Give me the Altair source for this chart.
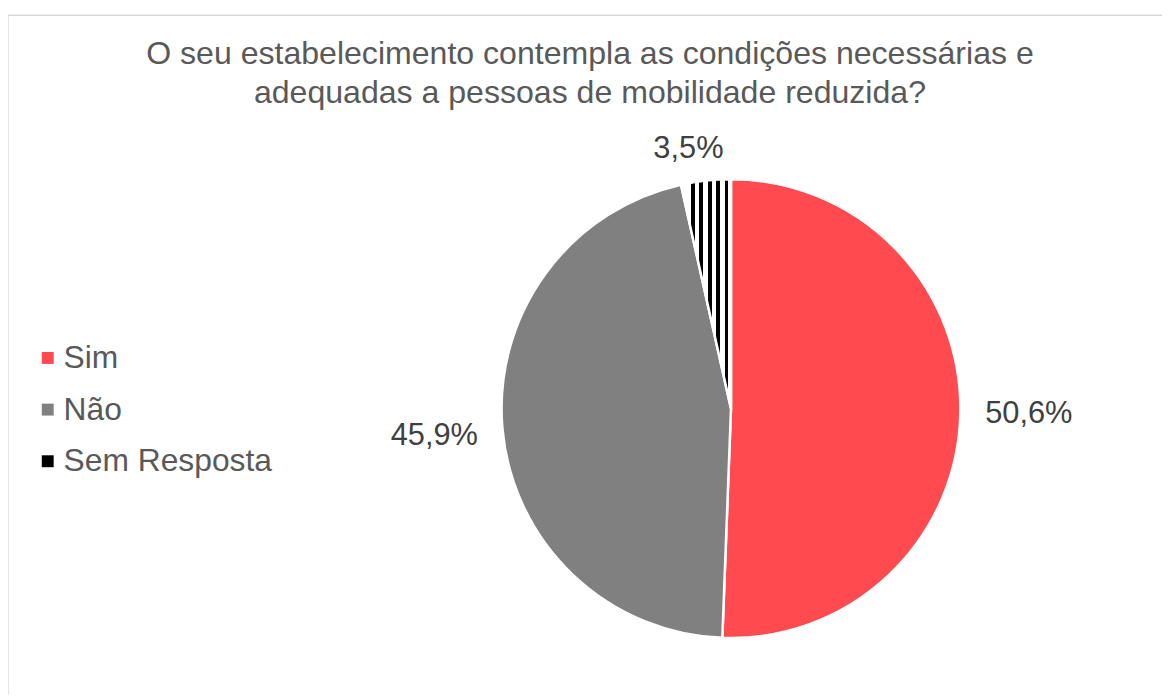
import altair as alt
import pandas as pd

categorias = ["Sim", "Não", "Sem Resposta"]
valores = [50.6, 45.9, 3.5]
cores = ["#FF4B50", "#808080", "#000000"]
titulo = ["O seu estabelecimento contempla as condições necessárias e",
          "adequadas a pessoas de mobilidade reduzida?"]

df = pd.DataFrame({
    "categoria": categorias,
    "valor": valores,
    "ordem": list(range(len(categorias))),
    "rotulo": [f"{v:.1f}".replace(".", ",") + "%" for v in valores],
})

FONT = "Liberation Sans"
CX, CY, R = 728, 396, 231

# vertical stripes pattern for "Sem Resposta"
black_bands = [(0.20, 0.28), (0.36, 0.44), (0.54, 0.62), (0.70, 0.78), (0.88, 0.94)]
stops = []
for a, b in black_bands:
    stops += [{"offset": a, "color": "#ffffff"}, {"offset": a, "color": "#000000"},
              {"offset": b, "color": "#000000"}, {"offset": b, "color": "#ffffff"}]
stops = [{"offset": 0, "color": "#ffffff"}] + stops + [{"offset": 1, "color": "#ffffff"}]
stripes = {"gradient": "linear", "x1": 0, "x2": 1, "y1": 0, "y2": 0, "stops": stops}

base = alt.Chart(df)
theta = alt.Theta("valor:Q", stack=True)
order = alt.Order("ordem:Q", sort="ascending")

pie = base.mark_arc(x=CX, y=CY, outerRadius=R, stroke="#ffffff", strokeWidth=2.5).encode(
    theta=theta,
    order=order,
    color=alt.condition(
        alt.datum.categoria == "Sem Resposta",
        alt.value(stripes),
        alt.Color("categoria:N",
                  scale=alt.Scale(domain=categorias, range=cores),
                  sort=categorias,
                  legend=alt.Legend(
                      title=None, orient="none", legendX=24, legendY=329,
                      symbolType="square", symbolSize=144, symbolStrokeWidth=0,
                      labelFont=FONT, labelFontSize=32, labelColor="#595959",
                      labelOffset=0, rowPadding=20, padding=0,
                      labelLimit=400)),
    ),
)

labels_big = base.mark_text(x=CX, y=CY, radius=300, font=FONT, fontSize=31,
                            color="#404040", align="center", baseline="middle").encode(
    theta=theta,
    order=order,
    text=alt.condition(alt.datum.categoria != "Sem Resposta",
                       alt.Text("rotulo:N"), alt.value("")),
)

labels_small = base.mark_text(x=CX, y=CY, radius=263, dx=-14, font=FONT, fontSize=31,
                              color="#404040", align="center", baseline="middle").encode(
    theta=theta,
    order=order,
    text=alt.condition(alt.datum.categoria == "Sem Resposta",
                       alt.Text("rotulo:N"), alt.value("")),
)

title = alt.Chart(alt.Data(values=[{}])).mark_text(
    text=titulo, font=FONT, fontSize=32.3, color="#595959", lineHeight=39,
    align="center", baseline="middle"
).encode(x=alt.value(586), y=alt.value(39))

border_top = alt.Chart(alt.Data(values=[{}])).mark_rule(
    color="#d9d9d9", strokeWidth=1.5
).encode(x=alt.value(0), x2=alt.value(1162), y=alt.value(0))
border_left = alt.Chart(alt.Data(values=[{}])).mark_rule(
    color="#d9d9d9", strokeWidth=1.5
).encode(x=alt.value(0), y=alt.value(0), y2=alt.value(684))

chart = alt.layer(border_top, border_left, pie, labels_big, labels_small, title).properties(
    width=1162, height=684,
    padding={"left": 0, "top": 5, "right": 0, "bottom": 0},
    autosize=alt.AutoSizeParams(type="none"),
    background="#ffffff",
).configure_view(stroke=None)

chart.save("out.html", embed_options={"renderer": "svg", "actions": False})
